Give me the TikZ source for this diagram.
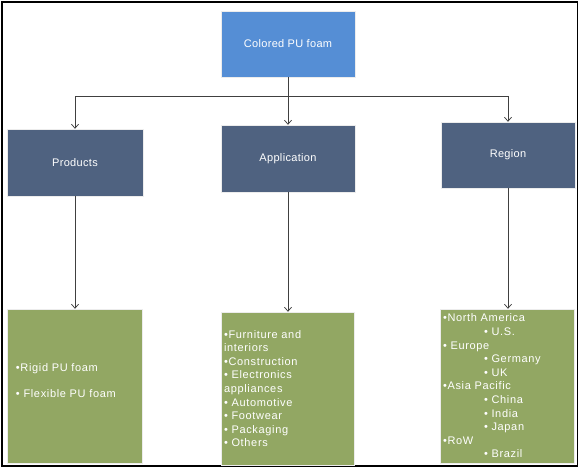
\documentclass[tikz,border=0pt]{standalone}
\usepackage{fontspec}
\setmainfont{Liberation Sans}
\usetikzlibrary{arrows.meta,positioning}
\definecolor{azulclaro}{RGB}{85,142,213}
\definecolor{pizarra}{RGB}{79,98,128}
\definecolor{oliva}{RGB}{146,167,99}
\definecolor{linea}{RGB}{64,64,64}
\newfontfamily\labelfont[LetterSpace=3]{Liberation Sans}
\newfontfamily\listfont[LetterSpace=6]{Liberation Sans}

\begin{document}
\begin{tikzpicture}[x=1pt,y=-1pt,
  head/.style={draw=white!85!gray,fill=pizarra,text=white,minimum width=134pt,minimum height=67pt,font=\labelfont\fontsize{11}{13}\selectfont},
  leaf/.style={draw=white!85!gray,fill=oliva,text=white,minimum height=154pt,align=left,inner xsep=3pt,text width=128pt,font=\listfont\fontsize{11}{13.6}\selectfont},
  conn/.style={draw=linea,line width=0.75pt,-{Straight Barb[length=4pt,width=7pt]}}]
\useasboundingbox (0,0) rectangle (580,469);
\draw[line width=1.5pt] (2,2) rectangle (577.5,466);

\node[head,fill=azulclaro,minimum height=66pt] (pufoam) at (288,44) {Colored PU foam};
\node[head,minimum width=136pt] (products) at (75,162.5) {Products};
\node[head] (application) at (288,158.5) {Application};
\node[head,minimum height=66pt] (region) at (508,155) {Region};

\node[leaf,inner xsep=9pt,text width=117pt] (productlist) at (74.5,386)
{•Rigid PU foam\\[12.4pt]• Flexible PU foam\\[-3.6pt]\mbox{}};
\node[leaf,minimum height=153pt,text width=127pt] (applist) at (287.5,388.5)
{•Furniture and\\interiors\\•Construction\\• Electronics\\appliances\\• Automotive\\• Footwear\\• Packaging\\• Others};
\node[leaf] (regionlist) at (507,386)
{•North America\\\hspace*{41pt}• U.S.\\• Europe\\\hspace*{41pt}• Germany\\\hspace*{41pt}• UK\\•Asia Pacific\\\hspace*{41pt}• China\\\hspace*{41pt}• India\\\hspace*{41pt}• Japan\\•RoW\\\hspace*{41pt}• Brazil};

% connectors
\coordinate (split) at (288,96);
\draw[conn] (pufoam) -- (application);
\draw[conn] (pufoam.south) -- (split) -| (products.north);
\draw[conn] (split) -| (region.north);
\draw[conn] (products.south) -- (products.south |- productlist.north);
\draw[conn] (application.south) -- (application.south |- applist.north);
\draw[conn] (region.south) -- (region.south |- regionlist.north);
\end{tikzpicture}
\end{document}
